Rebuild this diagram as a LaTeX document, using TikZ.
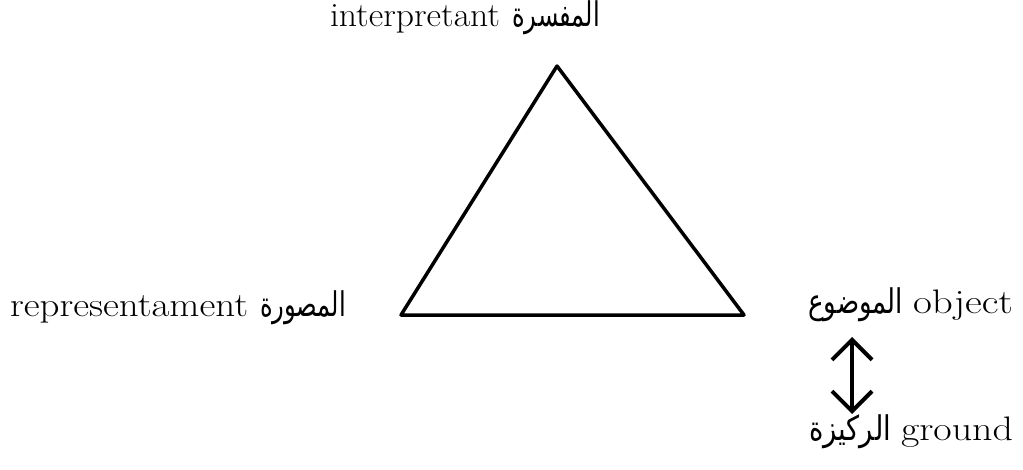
\documentclass[tikz,border=0pt]{standalone}
\usepackage{fontspec}
\usepackage{graphicx}
\newfontfamily\arabicfont[Script=Arabic]{DejaVu Sans}
\TeXXeTstate=1
\usetikzlibrary{arrows.meta}
\newcommand{\entxt}[2]{\resizebox{#1}{\height}{#2}}
\newcommand{\artxt}[2]{\resizebox{#1}{\height}{\arabicfont\beginR #2\endR}}
\tikzset{
  lbl/.style={inner sep=0pt, outer sep=0pt, font=\fontsize{34}{38}\selectfont},
  side/.style={line width=3.5pt, line join=round, line cap=round},
  dbl/.style={line width=4pt, {Straight Barb[length=20pt,width=40pt,line width=4pt]}-{Straight Barb[length=20pt,width=40pt,line width=4pt]}}
}
\begin{document}
\begin{tikzpicture}[x=1pt,y=-1pt]
\useasboundingbox (0,0) rectangle (1023,469);
% triangle vertices
\coordinate (I) at (557,66);
\coordinate (R) at (401,315);
\coordinate (O) at (744,315);
\draw[side] (I) -- (R) -- (O) -- cycle;
% labels
\node[lbl, anchor=base west] (interp) at (330,26) {\entxt{170pt}{interpretant}\hspace{12pt}\artxt{88pt}{المفسرة}};
\node[lbl, anchor=base west] (repr) at (10,316) {\entxt{238pt}{representament}\hspace{12pt}\artxt{86pt}{المصورة}};
\node[lbl, anchor=base east] (obj) at (1013,313) {\artxt{95pt}{الموضوع}\hspace{10pt}\entxt{100pt}{object}};
\node[lbl, anchor=base east] (gnd) at (1013,440) {\artxt{82pt}{الركيزة}\hspace{10pt}\entxt{112pt}{ground}};
% double arrow
\coordinate (atop) at (852,337);
\coordinate (abot) at (852,414);
\draw[dbl] (atop) -- (abot);
\end{tikzpicture}
\end{document}
